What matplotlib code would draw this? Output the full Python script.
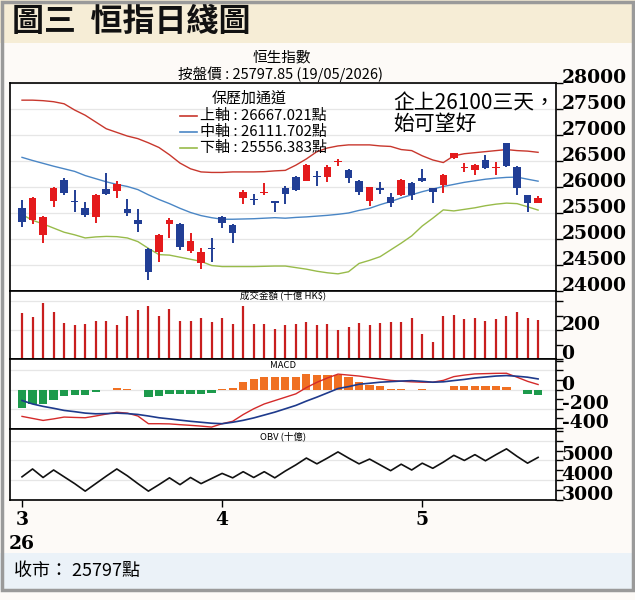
import matplotlib
matplotlib.use('Agg')
import matplotlib.pyplot as plt
import matplotlib.transforms as mtransforms
from matplotlib.lines import Line2D
from matplotlib.patches import Rectangle
import numpy as np

plt.rcParams['font.family'] = ['Noto Sans CJK TC', 'DejaVu Sans']

# 1. 數據 (19/05/2026 收市前的 50 個交易日)
opens = [25596, 25365, 25077, 25737, 26134, 25725, 25596, 25429, 25955, 25923,
         25570, 25365, 24801, 24756, 25288, 25282, 24776, 24545, 24820, 25417,
         25269, 25782, 25763, 25891, 25731, 25975, 26186, 26122, 26218, 26199,
         26481, 26327, 26115, 25737, 25974, 25814, 25840, 26083, 26167, 25974,
         26038, 26551, 26372, 26327, 26519, 26372, 26840, 26391, 25846, 25699]
highs = [25750, 25814, 25442, 25993, 26167, 25942, 25711, 25865, 26276, 26122,
         25763, 25570, 24820, 25096, 25397, 25301, 25109, 24820, 25013, 25442,
         25288, 25942, 25865, 26083, 25731, 26020, 26211, 26442, 26314, 26423,
         26532, 26340, 26135, 26006, 26103, 25891, 26148, 26103, 26340, 25974,
         26244, 26660, 26468, 26436, 26615, 26487, 26852, 26404, 25846, 25827]
lows = [25237, 25282, 24917, 25622, 25846, 25526, 25417, 25314, 25846, 25782,
        25442, 25141, 24211, 24564, 25013, 24788, 24724, 24417, 24564, 25205,
        24917, 25673, 25654, 25846, 25526, 25674, 25929, 26122, 26019, 26103,
        26404, 26071, 25846, 25635, 25865, 25609, 25833, 25750, 26103, 25699,
        25891, 26532, 26295, 26231, 26340, 26231, 26391, 25846, 25526, 25686]
closes = [25327, 25782, 25429, 25974, 25891, 25715, 25468, 25846, 25865, 26058,
          25506, 25288, 24372, 25077, 25365, 24852, 24968, 24756, 24801, 25301,
          25122, 25910, 25750, 25910, 25699, 25866, 25942, 26423, 26199, 26378,
          26506, 26167, 25910, 25993, 25942, 25699, 26135, 25846, 26122, 25910,
          26231, 26647, 26391, 26423, 26359, 26391, 26404, 25974, 25686, 25798]

boll_upper = [27670, 27670, 27660, 27640, 27600, 27480, 27380, 27250, 27120, 27050,
              26980, 26930, 26850, 26760, 26620, 26460, 26350, 26290, 26280, 26280,
              26290, 26290, 26290, 26295, 26310, 26320, 26420, 26540, 26680, 26750,
              26790, 26810, 26810, 26810, 26790, 26780, 26720, 26700, 26600, 26520,
              26470, 26600, 26640, 26660, 26680, 26700, 26720, 26700, 26690, 26667]
boll_mid = [26570, 26510, 26455, 26400, 26350, 26300, 26220, 26160, 26100, 26050,
            26010, 25950, 25850, 25760, 25680, 25590, 25510, 25450, 25410, 25380,
            25380, 25385, 25390, 25400, 25410, 25400, 25415, 25425, 25440, 25455,
            25475, 25500, 25550, 25590, 25660, 25720, 25790, 25850, 25910, 25960,
            26010, 26050, 26090, 26120, 26150, 26170, 26185, 26190, 26150, 26112]
boll_lower = [25470, 25360, 25290, 25210, 25130, 25080, 25020, 25040, 25050, 25045,
              25020, 24950, 24820, 24700, 24690, 24650, 24610, 24570, 24490, 24470,
              24470, 24470, 24470, 24475, 24480, 24480, 24450, 24420, 24380, 24350,
              24330, 24370, 24530, 24590, 24660, 24790, 24920, 25060, 25250, 25400,
              25560, 25540, 25570, 25600, 25640, 25670, 25690, 25680, 25620, 25556]

turnover = [318, 289, 386, 323, 250, 236, 241, 264, 266, 236,
            300, 339, 364, 295, 345, 261, 261, 280, 257, 284,
            243, 368, 239, 239, 207, 232, 239, 255, 234, 239,
            202, 223, 252, 232, 248, 259, 255, 286, 173, 118,
            295, 307, 275, 282, 261, 275, 300, 323, 286, 268]

macd_hist = [-190, -155, -150, -110, -70, -60, -60, -28, -6, 12,
             6, -8, -75, -70, -45, -45, -45, -45, -40, 4,
             15, 83, 107, 134, 134, 134, 134, 162, 155, 155,
             155, 128, 83, 52, 41, 8, 6, -4, 4, -4,
             -5, 41, 41, 41, 34, 34, 28, -5, -45, -62]
macd_dif = [-279, -300, -321, -305, -286, -290, -293, -275, -255, -236,
            -245, -275, -355, -355, -357, -365, -372, -380, -390, -355,
            -330, -260, -200, -150, -115, -80, -45, 20, 75, 120,
            160, 150, 140, 125, 110, 95, 86, 80, 76, 76,
            95, 134, 150, 162, 165, 168, 169, 128, 85, 52]
macd_dea = [-114, -150, -175, -195, -217, -230, -245, -252, -250, -245,
            -250, -259, -275, -293, -305, -318, -330, -340, -350, -355,
            -340, -320, -295, -265, -235, -200, -165, -120, -79, -35,
            10, 30, 55, 65, 76, 82, 88, 92, 85, 76,
            80, 93, 105, 120, 130, 140, 145, 138, 128, 110]

obv = [4172, 4569, 4138, 4517, 4172, 3828, 3448, 3828, 4207, 4569,
       4224, 3828, 3448, 3776, 4121, 3776, 4138, 3828, 4086, 4345,
       4121, 4431, 4138, 4431, 4121, 4466, 4776, 5121, 4828, 5121,
       5431, 5121, 4828, 5069, 4776, 4483, 4810, 4517, 4862, 4603,
       4914, 5259, 5000, 5293, 4983, 5293, 5586, 5207, 4862, 5155]

month_pos = [0, 19, 38]
month_labels = ['3\n26', '4', '5']

# 2. 畫布
W, H = 635, 600
fig = plt.figure(figsize=(W / 100, H / 100), dpi=100)
fig.patch.set_facecolor('#fdfaf7')


def fx(x):
    return x / W


def fy(y):
    return 1 - y / H


# 標題帶 / 底帶 / 外框
fig.add_artist(Rectangle((0, fy(43)), 1, 43 / H, transform=fig.transFigure,
                         facecolor='#f6edd6', edgecolor='none', zorder=0))
fig.add_artist(Rectangle((0, fy(590)), 1, 37 / H, transform=fig.transFigure,
                         facecolor='#ebf2f8', edgecolor='none', zorder=0))
fig.add_artist(Rectangle((fx(1.5), fy(590)), fx(631), 588 / H, transform=fig.transFigure,
                         facecolor='none', edgecolor='#9a9a9a', lw=2.5, zorder=5))

fig.text(fx(12), fy(22), '圖三  恒指日綫圖', fontsize=23, fontweight='bold',
         va='center', ha='left', color='#111111')
fig.text(fx(282), fy(57), '恒生指數', fontsize=10.5, ha='center', va='center')
fig.text(fx(280), fy(74), '按盤價 : 25797.85 (19/05/2026)', fontsize=10.5,
         ha='center', va='center')
fig.text(fx(14), fy(571), '收市： 25797點', fontsize=13, ha='left', va='center')

# 3. 各子圖
left, right = 10, 556
x = np.arange(len(closes))
xlim = (-1.14, 50.7)
serif = {'family': 'DejaVu Serif', 'weight': 'bold', 'size': 13.5}


def make_ax(top, bottom):
    ax = fig.add_axes([fx(left), fy(bottom), (right - left) / W, (bottom - top) / H])
    ax.set_xlim(*xlim)
    ax.yaxis.tick_right()
    ax.tick_params(axis='y', length=5, width=1, pad=-1, labelsize=13.5)
    ax.tick_params(axis='x', length=0, labelbottom=False)
    for s in ax.spines.values():
        s.set_linewidth(1.2)
    ax.set_axisbelow(True)
    return ax


def fix_labels(ax, labels_at):
    ticks = ax.get_yticks()
    ax.set_yticks(ticks)
    ax.set_yticklabels([f'{int(t)}' if t in labels_at else '' for t in ticks])
    off = mtransforms.ScaledTranslation(0, 7 / 100, fig.dpi_scale_trans)
    for lb in ax.get_yticklabels():
        lb.set_fontproperties(matplotlib.font_manager.FontProperties(**serif))
        lb.set_transform(lb.get_transform() + off)


# 主圖: 陰陽燭 + 保歷加通道
ax1 = make_ax(83, 291)
ax1.set_ylim(24000, 28000)
ax1.set_yticks(np.arange(24000, 28001, 500))
fix_labels(ax1, list(range(24000, 28001, 500)))
ax1.grid(axis='y', color='#e6e6e6', lw=0.9)

o = np.array(opens)
c = np.array(closes)
up = c >= o
cols = np.where(up, '#e41a1c', '#213e95')
body_lo = np.minimum(o, c)
body_h = np.maximum(np.abs(c - o), 18)
ax1.vlines(x, lows, highs, colors=cols, lw=1.4, zorder=3)
ax1.bar(x, body_h, bottom=body_lo, width=0.72, color=cols, zorder=4)
ax1.plot(x, boll_upper, color='#c8372d', lw=1.0, zorder=2)
ax1.plot(x, boll_mid, color='#4a86c5', lw=1.0, zorder=2)
ax1.plot(x, boll_lower, color='#98bb4a', lw=1.0, zorder=2)

# 圖例
fig.text(fx(249), fy(98), '保歷加通道', fontsize=10.8, ha='center', va='center')
legend_rows = [('上軸 : 26667.021點', '#c8372d', 116),
               ('中軸 : 26111.702點', '#4a86c5', 132),
               ('下軸 : 25556.383點', '#98bb4a', 148)]
for txt, col, yy in legend_rows:
    fig.add_artist(Line2D([fx(180), fx(197)], [fy(yy), fy(yy)], color=col, lw=1.2,
                          transform=fig.transFigure))
    fig.text(fx(200), fy(yy), txt, fontsize=10.8, ha='left', va='center')

fig.text(fx(393), fy(103), '企上26100三天，', fontsize=15, ha='left', va='center')
fig.text(fx(393), fy(124), '始可望好', fontsize=15, ha='left', va='center')

# 成交金額
ax2 = make_ax(291, 359)
ax2.set_ylim(0, 470)
ax2.set_yticks(np.arange(0, 401, 100))
fix_labels(ax2, [0, 200])
for g in (200, 400):
    ax2.axhline(g, color='#e6e6e6', lw=0.9, zorder=0)
ax2.vlines(x, 0, turnover, colors='#c81e1e', lw=1.6)
ax2.text(0.5, 0.92, '成交金額 (十億 HK$)', transform=ax2.transAxes, fontsize=6.8,
         ha='center', va='center')

# MACD
ax3 = make_ax(359, 429)
ax3.set_ylim(-410, 317)
ax3.set_yticks(np.arange(-400, 301, 100))
fix_labels(ax3, [-400, -200, 0])
for g in (200, 0, -200):
    ax3.axhline(g, color='#e6e6e6', lw=0.9, zorder=0)
hist = np.array(macd_hist)
hcols = np.where(hist >= 0, '#f07022', '#1d9a4c')
ax3.bar(x, hist, width=0.78, color=hcols, zorder=2)
ax3.plot(x, macd_dif, color='#d42a2a', lw=1.0, zorder=3)
ax3.plot(x, macd_dea, color='#1e3a8c', lw=1.2, zorder=3)
ax3.text(0.5, 0.9, 'MACD', transform=ax3.transAxes, fontsize=6.8,
         ha='center', va='center')

# OBV
ax4 = make_ax(429, 500)
ax4.set_ylim(3000, 6590)
ax4.set_yticks(np.arange(3000, 6501, 500))
fix_labels(ax4, [3000, 4000, 5000])
for g in (4000, 5000, 6000):
    ax4.axhline(g, color='#e6e6e6', lw=0.9, zorder=0)
ax4.plot(x, obv, color='#111111', lw=1.2)
ax4.text(0.5, 0.9, 'OBV (十億)', transform=ax4.transAxes, fontsize=6.8,
         ha='center', va='center')

ax4.set_xticks(month_pos)
ax4.set_xticklabels(month_labels, fontdict=serif, linespacing=1.45)
ax4.tick_params(axis='x', length=5, width=1, direction='out', pad=3,
                labelbottom=True)

fig.savefig('out.png', dpi=100, facecolor=fig.get_facecolor())
